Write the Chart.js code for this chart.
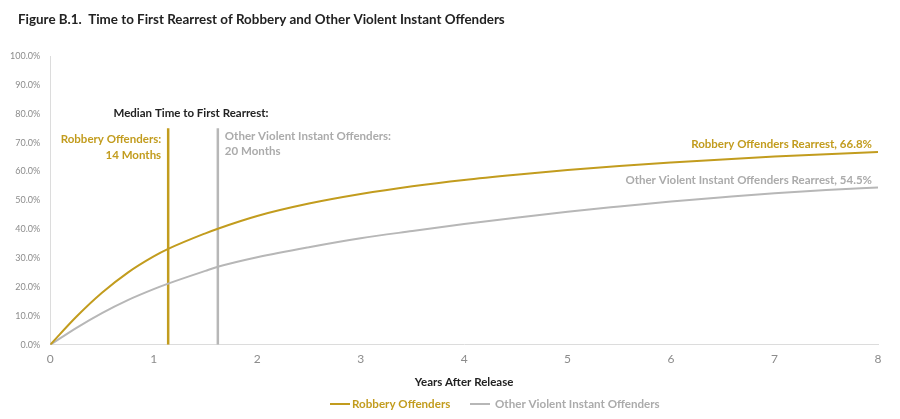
<!DOCTYPE html>
<html>
<head>
<meta charset="utf-8">
<script src="https://cdn.jsdelivr.net/npm/chart.js@4"></script>
<style>
    html, body { margin: 0; padding: 0; background: #ffffff; }
    #wrap { width: 900px; height: 419px; position: relative; }
</style>
</head>
<body>
<div id="wrap"><canvas id="rearrest-chart"></canvas></div>
<script>
// Years after release and cumulative rearrest rates (%)
const years = [0, 0.25, 0.5, 0.75, 1, 1.14, 1.5, 1.62, 2, 2.5, 3, 3.5, 4, 4.5, 5, 5.5, 6, 6.5, 7, 7.5, 8];
const robberyRates = [0, 9.6, 18, 25, 30.6, 33.2, 38.6, 40.2, 44.6, 48.9, 52.2, 54.9, 57.1, 58.9, 60.5, 61.9, 63.1, 64.2, 65.2, 66, 66.8];
const otherRates = [0, 5.8, 11, 15.5, 19.3, 21.2, 25.6, 27, 30.3, 33.8, 36.9, 39.4, 41.8, 44, 46.1, 47.9, 49.6, 51.1, 52.5, 53.6, 54.5];

// Median time to first rearrest (years) and the height the marker lines reach
const medianYears = { robbery: 1.14, other: 1.62 };
const medianTop = 75;

const xTicks = [0, 1, 2, 3, 4, 5, 6, 7, 8];
const seriesLabels = ['Robbery Offenders', 'Other Violent Instant Offenders'];
const titleText = 'Figure B.1.  Time to First Rearrest of Robbery and Other Violent Instant Offenders';

const colors = {
    gold: '#C29C1E',
    gray: '#B7B7B7',
    grayText: '#ABABAB',
    dark: '#222222',
    axis: '#DCDCDC',
    tick: '#8C8C8C'
};
const FONT = 'Lato, "Open Sans", sans-serif';

const toPoints = (xs, ys) => xs.map((x, i) => ({ x: x, y: ys[i] }));

/**
 * Title, in-chart labels and the legend, drawn by hand so they sit where the figure has them
 */
const annotationPlugin = {
    id: 'annotations',
    afterDatasetsDraw(chart) {
        const ctx = chart.ctx;
        const xs = chart.scales.x;
        const ys = chart.scales.y;
        const put = (text, x, y, color, align) => {
            ctx.fillStyle = color;
            ctx.textAlign = align;
            ctx.fillText(text, x, y);
        };
        ctx.save();
        ctx.textBaseline = 'middle';

        // title
        ctx.font = 'bold 13.4px ' + FONT;
        put(titleText, 18, 20, colors.dark, 'left');

        ctx.font = 'bold 11.5px ' + FONT;
        const rx = xs.getPixelForValue(medianYears.robbery);
        const ox = xs.getPixelForValue(medianYears.other);
        put('Median Time to First Rearrest:', (rx + ox) / 2 - 2, ys.getPixelForValue(80), colors.dark, 'center');
        put('Robbery Offenders:', rx - 7, ys.getPixelForValue(71.2), colors.gold, 'right');
        put('14 Months', rx - 7, ys.getPixelForValue(65.5), colors.gold, 'right');
        put('Other Violent Instant Offenders:', ox + 7, ys.getPixelForValue(72.2), colors.grayText, 'left');
        put('20 Months', ox + 7, ys.getPixelForValue(67), colors.grayText, 'left');

        const endX = xs.getPixelForValue(8) - 6;
        put('Robbery Offenders Rearrest, 66.8%', endX, ys.getPixelForValue(69.4), colors.gold, 'right');
        put('Other Violent Instant Offenders Rearrest, 54.5%', endX, ys.getPixelForValue(56.8), colors.grayText, 'right');

        // legend
        const legendY = 404;
        const legendX = [330, 470];
        ctx.font = 'bold 11.6px ' + FONT;
        [colors.gold, colors.gray].forEach((c, i) => {
            const lx = legendX[i];
            ctx.strokeStyle = c;
            ctx.lineWidth = 2;
            ctx.beginPath();
            ctx.moveTo(lx, legendY);
            ctx.lineTo(lx + 20, legendY);
            ctx.stroke();
            put(seriesLabels[i], lx + (i === 0 ? 22 : 25), legendY, i === 0 ? colors.gold : colors.grayText, 'left');
        });
        ctx.restore();
    }
};

const ctx = document.getElementById('rearrest-chart').getContext('2d');

new Chart(ctx, {
    type: 'line',
    data: {
        datasets: [
            {
                label: seriesLabels[0],
                data: toPoints(years, robberyRates),
                borderColor: colors.gold,
                borderWidth: 2,
                pointRadius: 0,
                cubicInterpolationMode: 'monotone'
            },
            {
                label: seriesLabels[1],
                data: toPoints(years, otherRates),
                borderColor: colors.gray,
                borderWidth: 2,
                pointRadius: 0,
                cubicInterpolationMode: 'monotone'
            },
            {
                label: 'robbery median',
                data: [{ x: medianYears.robbery, y: 0 }, { x: medianYears.robbery, y: medianTop }],
                borderColor: colors.gold,
                borderWidth: 2.5,
                pointRadius: 0
            },
            {
                label: 'other median',
                data: [{ x: medianYears.other, y: 0 }, { x: medianYears.other, y: medianTop }],
                borderColor: colors.gray,
                borderWidth: 2.5,
                pointRadius: 0
            }
        ]
    },
    options: {
        responsive: true,
        maintainAspectRatio: false,
        animation: false,
        layout: {
            padding: { left: 0, right: 22, top: 56, bottom: 30 }
        },
        plugins: {
            title: { display: false },
            legend: { display: false },
            tooltip: { enabled: false }
        },
        scales: {
            x: {
                type: 'linear',
                min: 0,
                max: 8,
                afterBuildTicks: (axis) => { axis.ticks = xTicks.map(v => ({ value: v })); },
                grid: { display: false, drawTicks: false },
                border: { color: colors.axis, width: 1 },
                ticks: {
                    color: colors.tick,
                    padding: 7,
                    font: { family: FONT, size: 12 }
                },
                title: {
                    display: true,
                    text: 'Years After Release',
                    color: colors.dark,
                    font: { family: FONT, size: 11.5, weight: 'bold' },
                    padding: { top: 2, bottom: 0 }
                }
            },
            y: {
                min: 0,
                max: 100,
                grid: { display: false, drawTicks: false },
                border: { color: colors.axis, width: 1 },
                ticks: {
                    stepSize: 10,
                    color: colors.tick,
                    padding: 10,
                    font: { family: FONT, size: 9 },
                    callback: (value) => value.toFixed(1) + '%'
                }
            }
        }
    },
    plugins: [annotationPlugin]
});
</script>
</body>
</html>
